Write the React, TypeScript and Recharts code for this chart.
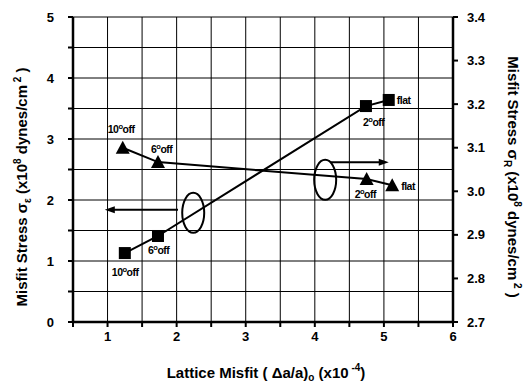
import React from 'react';
import {
    ComposedChart, Line, XAxis, YAxis, CartesianGrid,
    ReferenceDot, ReferenceLine, LabelList
} from 'recharts';

// squares -> left axis (sigma_e), triangles -> right axis (sigma_R)
const squareMisfit = [1.25, 1.73, 4.74, 5.07];
const squareStress = [1.13, 1.41, 3.54, 3.64];
const squareNames = ['10°off', '6°off', '2°off', 'flat'];

const triangleMisfit = [1.22, 1.73, 4.75, 5.12];
const triangleStress = [3.10, 3.067, 3.028, 3.014];
const triangleNames = ['10°off', '6°off', '2°off', 'flat'];

const xTicks = [0.5, 1, 1.5, 2, 2.5, 3, 3.5, 4, 4.5, 5, 5.5, 6];
const leftTicks = [0, 0.5, 1, 1.5, 2, 2.5, 3, 3.5, 4, 4.5, 5];
const rightTicks = [2.7, 2.8, 2.9, 3.0, 3.1, 3.2, 3.3, 3.4];

// annotation anchors (data units, left axis)
const ellipseX = [2.24, 4.15];
const ellipseY = [1.79, 2.33];
const arrowFromX = [2.02, 4.22];
const arrowToX = [0.96, 5.07];
const arrowY = [1.84, 2.62];

// label placement relative to each marker (px)
const squareLabelOffsets = [[-13, 23], [-10, 18], [-3, 20], [8, 4]];
const triangleLabelOffsets = [[-15, -15], [-7, -9], [-12, 19], [9, 5]];

const FONT = '"Liberation Sans", Arial, sans-serif';

const squareData = squareMisfit.map((x, i) => ({ x, y: squareStress[i], name: squareNames[i] }));
const triangleData = triangleMisfit.map((x, i) => ({ x, y: triangleStress[i], name: triangleNames[i] }));

const Square = (props: any) => {
    const { cx, cy, index } = props;
    return <rect key={'sq' + index} x={cx - 6} y={cy - 6} width={12} height={12} fill="#000" />;
};

const Triangle = (props: any) => {
    const { cx, cy, index } = props;
    return (
        <polygon
            key={'tr' + index}
            points={`${cx},${cy - 7} ${cx - 7},${cy + 6} ${cx + 7},${cy + 6}`}
            fill="#000"
        />
    );
};

function PointLabel({ x, y, name, off }: { x: number; y: number; name: string; off: number[] }) {
    const tx = x + off[0];
    const ty = y + off[1];
    if (name.includes('°')) {
        const [num, rest] = name.split('°');
        return (
            <text x={tx} y={ty} fontSize={10.5} fontWeight="bold" fontFamily={FONT} fill="#000" letterSpacing={-0.5}>
                {num}
                <tspan dy={-4} fontSize={7.5}>o</tspan>
                <tspan dy={4}>{rest}</tspan>
            </text>
        );
    }
    return (
        <text x={tx} y={ty} fontSize={10.5} fontWeight="bold" fontFamily={FONT} fill="#000" letterSpacing={-0.5}>
            {name}
        </text>
    );
}

const makeLabel = (names: string[], offsets: number[][]) => (props: any) => {
    const { x, y, index } = props;
    return <PointLabel key={'lb' + index} x={x} y={y} name={names[index]} off={offsets[index]} />;
};

const Ellipse = (props: any) => {
    const { cx, cy } = props;
    return <ellipse cx={cx} cy={cy} rx={11} ry={20} fill="none" stroke="#000" strokeWidth={2} />;
};

const Arrow = (props: any) => {
    const { x1, y1, x2, y2 } = props;
    const dir = x2 > x1 ? 1 : -1;
    return (
        <g>
            <line x1={x1} y1={y1} x2={x2 - dir * 8} y2={y2} stroke="#000" strokeWidth={2} />
            <polygon points={`${x2},${y2} ${x2 - dir * 10},${y2 - 3.5} ${x2 - dir * 10},${y2 + 3.5}`} fill="#000" />
        </g>
    );
};

const tickStyle = { fontSize: 13, fontWeight: 'bold', fill: '#000', fontFamily: FONT };
const axisLine = { stroke: '#000', strokeWidth: 2.5 };
const tickLine = { stroke: '#000', strokeWidth: 2 };

export default function App() {
    return (
        <div style={{ position: 'absolute', left: 0, top: 0, width: 527, height: 385, background: '#fff' }}>
            <ComposedChart width={527} height={385} margin={{ top: 17, right: 0, bottom: 0, left: 0 }}>
                <CartesianGrid xAxisId="bottom" yAxisId="left" stroke="#000" strokeWidth={1} />
                <XAxis
                    xAxisId="bottom"
                    type="number"
                    dataKey="x"
                    domain={[0.5, 6]}
                    ticks={xTicks}
                    tickFormatter={(v: number) => (Number.isInteger(v) ? String(v) : '')}
                    allowDataOverflow
                    height={63}
                    tick={tickStyle}
                    tickSize={5}
                    tickMargin={5}
                    axisLine={axisLine}
                    tickLine={tickLine}
                />
                <XAxis
                    xAxisId="top"
                    orientation="top"
                    type="number"
                    domain={[0.5, 6]}
                    height={0}
                    tick={false}
                    tickLine={false}
                    axisLine={axisLine}
                />
                <YAxis
                    yAxisId="left"
                    type="number"
                    domain={[0, 5]}
                    ticks={leftTicks}
                    tickFormatter={(v: number) => (Number.isInteger(v) ? String(v) : '')}
                    width={73}
                    tick={tickStyle}
                    tickSize={5}
                    tickMargin={14}
                    axisLine={axisLine}
                    tickLine={tickLine}
                />
                <YAxis
                    yAxisId="right"
                    orientation="right"
                    type="number"
                    domain={[2.7, 3.4]}
                    ticks={rightTicks}
                    tickFormatter={(v: number) => v.toFixed(1)}
                    width={74}
                    tick={tickStyle}
                    tickSize={5}
                    tickMargin={9}
                    axisLine={axisLine}
                    tickLine={tickLine}
                />

                {ellipseX.map((x, i) => (
                    <ReferenceDot key={'el' + i} xAxisId="bottom" yAxisId="left" x={x} y={ellipseY[i]} shape={Ellipse} />
                ))}
                {arrowFromX.map((x, i) => (
                    <ReferenceLine
                        key={'ar' + i}
                        xAxisId="bottom"
                        yAxisId="left"
                        segment={[{ x, y: arrowY[i] }, { x: arrowToX[i], y: arrowY[i] }]}
                        shape={Arrow}
                    />
                ))}

                <Line
                    data={squareData}
                    xAxisId="bottom"
                    yAxisId="left"
                    dataKey="y"
                    type="linear"
                    stroke="#000"
                    strokeWidth={2}
                    dot={Square}
                    activeDot={false}
                    isAnimationActive={false}
                >
                    <LabelList dataKey="name" content={makeLabel(squareNames, squareLabelOffsets)} />
                </Line>
                <Line
                    data={triangleData}
                    xAxisId="bottom"
                    yAxisId="right"
                    dataKey="y"
                    type="linear"
                    stroke="#000"
                    strokeWidth={2}
                    dot={Triangle}
                    activeDot={false}
                    isAnimationActive={false}
                >
                    <LabelList dataKey="name" content={makeLabel(triangleNames, triangleLabelOffsets)} />
                </Line>

                <text transform="translate(27,187) rotate(-90)" textAnchor="middle" fontSize={15} fontWeight="bold" fontFamily={FONT} fill="#000">
                    Misfit Stress  σ<tspan dy={4} fontSize={10}>ε</tspan>
                    <tspan dy={-4}> (x10</tspan>
                    <tspan dy={-6} fontSize={10}>8</tspan>
                    <tspan dy={6}> dynes/cm</tspan>
                    <tspan dy={-6} fontSize={10}> 2</tspan>
                    <tspan dy={6}> )</tspan>
                </text>
                <text transform="translate(508,177) rotate(90)" textAnchor="middle" fontSize={15} fontWeight="bold" fontFamily={FONT} fill="#000">
                    Misfit Stress  σ<tspan dy={4} fontSize={10}>R</tspan>
                    <tspan dy={-4}> (x10</tspan>
                    <tspan dy={-6} fontSize={10}>8</tspan>
                    <tspan dy={6}> dynes/cm</tspan>
                    <tspan dy={-6} fontSize={10}> 2</tspan>
                    <tspan dy={6}> )</tspan>
                </text>
                <text x={266} y={378} textAnchor="middle" fontSize={15} fontWeight="bold" fontFamily={FONT} fill="#000">
                    Lattice Misfit ( Δa/a)<tspan dy={3} fontSize={10}>o</tspan>
                    <tspan dy={-3}> (x10</tspan>
                    <tspan dy={-7} fontSize={10}> -4</tspan>
                    <tspan dy={7}>)</tspan>
                </text>
            </ComposedChart>
        </div>
    );
}
